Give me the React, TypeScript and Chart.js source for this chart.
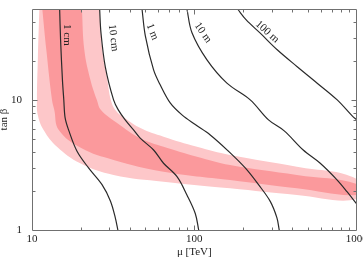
import { useEffect, useRef } from "react";
import { Chart, registerables } from "chart.js";

Chart.register(...registerables);

const serif = '"Liberation Serif", "Times New Roman", serif';

// Axis ticks
const xTickValues = [10, 100, 1000];
const yTickValues = [1, 10];
const xMinorTicks = [20, 30, 40, 50, 60, 70, 80, 90, 200, 300, 400, 500, 600, 700, 800, 900];
const yMinorTicks = [2, 3, 4, 5, 6, 7, 8, 9, 20, 30, 40];

// Decay-length contours in the (mu, tan beta) plane
const contourNames = ["1 cm", "10 cm", "1 m", "10 m", "100 m"];
const mu1cm = [14.8, 15.0, 15.4, 15.7, 16.0, 16.8, 18.9, 22.3, 27.0, 30.4, 32.6, 33.8];
const tanb1cm = [50, 28.9, 14.2, 10, 7.27, 5.88, 4.05, 3.0, 2.23, 1.67, 1.24, 1];
const mu10cm = [26.1, 26.6, 28.3, 31.8, 34.0, 37.5, 42.2, 46.4, 56.1, 64.6, 78.2, 90.0, 101.3, 106.4];
const tanb10cm = [50, 32.8, 17.9, 10, 8.38, 7.02, 5.88, 5.08, 4.12, 3.26, 2.57, 1.86, 1.34, 1];
const mu1m = [47.6, 49.9, 56.1, 61.7, 71.0, 83.9, 101.3, 125.3, 162.4, 205.8, 248.5, 293.4, 322.6, 333.3];
const tanb1m = [50, 31.1, 17.0, 13.0, 9.48, 7.67, 6.46, 5.38, 4.03, 3.0, 2.23, 1.66, 1.24, 1];
const mu10m = [90.0, 96.7, 119.6, 158.7, 220.9, 286.3, 357.8, 468.4, 596.2, 758.6, 874, 1000];
const tanb10m = [50, 32.8, 20.3, 13.45, 10, 7.02, 5.78, 4.12, 3.26, 2.42, 1.96, 1.585];
const mu100m = [184.5, 208.7, 254.6, 323.9, 430.1, 571.1, 758.6, 938.3, 1000];
const tanb100m = [50, 41.2, 32.6, 24.3, 18.0, 13.45, 10, 7.53, 7.02];

// Contour label anchors (mu, tan beta) and text angle in degrees
const labelMu = [16.5, 31.7, 55.1, 113, 281];
const labelTanb = [31.6, 30.0, 33.4, 32.8, 33.4];
const labelAngle = [90, 83, 68, 55, 42];

// Higgs-mass bands: outer (2 sigma) and inner (1 sigma) edges
const outerLowMu = [11.1, 10.86, 10.73, 10.86, 11.79, 14.25, 19.83, 31.8, 64.6, 166, 428, 1000];
const outerLowTanb = [50, 20.3, 10, 7.67, 5.88, 4.37, 3.26, 2.65, 2.35, 2.09, 1.86, 1.73];
const outerHighMu = [26.0, 27.1, 29.1, 30.6, 32.6, 37.2, 46.9, 64.6, 103.8, 166, 428, 1000];
const outerHighTanb = [50, 24.3, 14.25, 10, 8.38, 7.27, 6.06, 5.22, 4.37, 3.78, 3.07, 2.47];
const innerLowMu = [11.57, 12.25, 13.28, 13.72, 14.62, 20.1, 31.8, 64.6, 166, 428, 1000];
const innerLowTanb = [50, 24.3, 10, 8.38, 5.88, 4.27, 3.46, 2.81, 2.42, 2.09, 1.86];
const innerHighMu = [20.3, 21.0, 22.9, 25.1, 26.6, 33.6, 46.4, 64.6, 103.8, 166, 428, 1000];
const innerHighTanb = [50, 24.3, 14.25, 10, 8.38, 6.62, 5.08, 4.37, 3.66, 3.16, 2.65, 2.26];

const toPoints = (xs: number[], ys: number[]) => xs.map((x, i) => ({ x, y: ys[i] }));
const bandPolygon = (lx: number[], ly: number[], hx: number[], hy: number[]) => [
  ...toPoints(lx, ly),
  ...toPoints(hx, hy).reverse(),
];

const frameAndLabels = {
  id: "frameAndLabels",
  afterDatasetsDraw(chart: any) {
    const { ctx, chartArea: a, scales } = chart;
    const x = scales.x;
    const y = scales.y;
    ctx.save();

    // contour labels
    ctx.font = `11px ${serif}`;
    ctx.fillStyle = "#222";
    ctx.textAlign = "center";
    ctx.textBaseline = "middle";
    contourNames.forEach((name, i) => {
      const px = x.getPixelForValue(labelMu[i]);
      const py = y.getPixelForValue(labelTanb[i]);
      ctx.save();
      ctx.translate(px, py);
      ctx.rotate((labelAngle[i] * Math.PI) / 180);
      ctx.fillText(name, 0, 0);
      ctx.restore();
    });

    // frame
    const L = Math.round(a.left) + 0.5;
    const R = Math.round(a.right) - 0.5;
    const T = Math.round(a.top) + 0.5;
    const B = Math.round(a.bottom) + 0.5;
    ctx.strokeStyle = "#707070";
    ctx.lineWidth = 1;
    ctx.beginPath();
    ctx.rect(L, T, R - L, B - T);
    ctx.stroke();

    // inward ticks on all four sides
    ctx.beginPath();
    const xTick = (v: number, len: number) => {
      const px = Math.round(x.getPixelForValue(v)) + 0.5;
      ctx.moveTo(px, B);
      ctx.lineTo(px, B - len);
      ctx.moveTo(px, T);
      ctx.lineTo(px, T + len);
    };
    const yTick = (v: number, len: number) => {
      const py = Math.round(y.getPixelForValue(v)) + 0.5;
      ctx.moveTo(L, py);
      ctx.lineTo(L + len, py);
      ctx.moveTo(R, py);
      ctx.lineTo(R - len, py);
    };
    xMinorTicks.forEach((v) => xTick(v, 3));
    xTick(100, 5);
    yMinorTicks.forEach((v) => yTick(v, 3));
    yTick(10, 5);
    ctx.stroke();
    ctx.restore();
  },
};

export default function App() {
  const ref = useRef<HTMLCanvasElement>(null);

  useEffect(() => {
    if (!ref.current) return;
    const contours = [
      [mu1cm, tanb1cm],
      [mu10cm, tanb10cm],
      [mu1m, tanb1m],
      [mu10m, tanb10m],
      [mu100m, tanb100m],
    ].map(([xs, ys], i) => ({
      label: contourNames[i],
      data: toPoints(xs, ys),
      borderColor: "#2a2a2a",
      borderWidth: 1.2,
      tension: 0.35,
      pointRadius: 0,
      fill: false,
      order: 0,
    }));

    const chart = new Chart(ref.current, {
      type: "line",
      data: {
        datasets: [
          ...contours,
          {
            label: "inner",
            data: bandPolygon(innerLowMu, innerLowTanb, innerHighMu, innerHighTanb),
            borderWidth: 0,
            backgroundColor: "rgb(251,153,156)",
            fill: "shape",
            tension: 0.4,
            pointRadius: 0,
            order: 1,
          },
          {
            label: "outer",
            data: bandPolygon(outerLowMu, outerLowTanb, outerHighMu, outerHighTanb),
            borderWidth: 0,
            backgroundColor: "rgb(253,199,201)",
            fill: "shape",
            tension: 0.4,
            pointRadius: 0,
            order: 2,
          },
        ],
      } as any,
      options: {
        animation: false,
        responsive: false,
        devicePixelRatio: 1,
        layout: { padding: { top: 9, right: 6.3, left: 0, bottom: 0 } },
        plugins: { legend: { display: false }, tooltip: { enabled: false } },
        scales: {
          x: {
            type: "logarithmic",
            min: 10,
            max: 1000,
            afterBuildTicks: (s: any) => {
              s.ticks = xTickValues.map((value) => ({ value }));
            },
            afterFit: (s: any) => {
              s.height = 29;
              s.paddingLeft = 0;
              s.paddingRight = 0;
            },
            grid: { display: false, drawTicks: false },
            border: { display: false },
            ticks: {
              font: { family: serif, size: 11 },
              color: "#222",
              padding: 3,
              maxRotation: 0,
              autoSkip: false,
              callback: (v: any) => String(v),
            },
            title: {
              display: true,
              text: "μ [TeV]",
              font: { family: serif, size: 11 },
              color: "#222",
              padding: { top: 0, bottom: 0 },
            },
          },
          y: {
            type: "logarithmic",
            min: 1,
            max: 50,
            afterBuildTicks: (s: any) => {
              s.ticks = yTickValues.map((value) => ({ value }));
            },
            afterFit: (s: any) => {
              s.width = 32;
              s.paddingTop = 0;
              s.paddingBottom = 0;
            },
            grid: { display: false, drawTicks: false },
            border: { display: false },
            ticks: {
              font: { family: serif, size: 11 },
              color: "#222",
              padding: 10,
              autoSkip: false,
              callback: (v: any) => String(v),
            },
            title: {
              display: true,
              text: "tan β",
              font: { family: serif, size: 11 },
              color: "#222",
              padding: { top: -2, bottom: 0 },
            },
          },
        },
      } as any,
      plugins: [frameAndLabels],
    });
    return () => chart.destroy();
  }, []);

  return (
    <div style={{ position: "fixed", left: 0, top: 0, width: 363, height: 259, background: "#fff" }}>
      <canvas ref={ref} width={363} height={259} style={{ display: "block" }} />
    </div>
  );
}
